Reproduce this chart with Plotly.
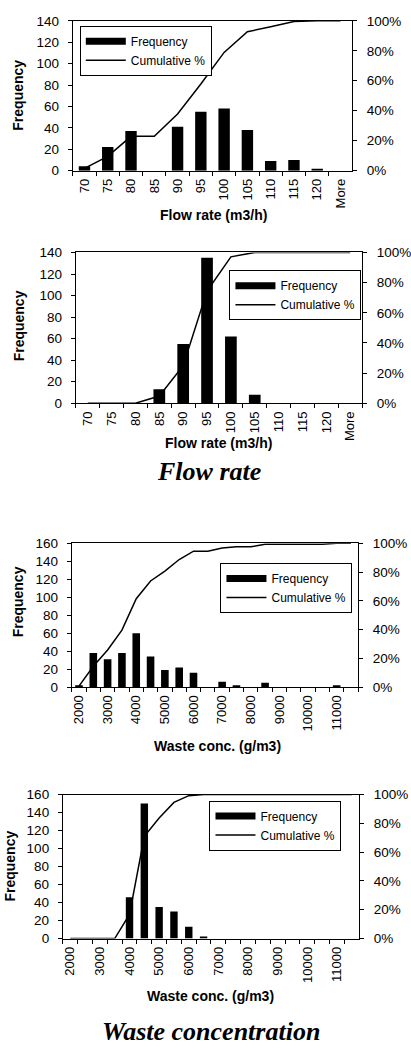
import plotly.graph_objects as go

# ---------------- data ----------------
flow_cats = ["70", "75", "80", "85", "90", "95", "100", "105", "110", "115", "120", "More"]
flow1_freq = [4, 22, 37, 0, 41, 55, 58, 38, 9, 10, 1, 0]
flow1_cum = [0.015, 0.095, 0.229, 0.229, 0.378, 0.578, 0.789, 0.927, 0.96, 0.996, 1.0, 1.0]
flow2_freq = [0, 0, 0, 13, 55, 135, 62, 8, 0, 0, 0, 0]
flow2_cum = [0.0, 0.0, 0.0, 0.048, 0.249, 0.744, 0.971, 1.0, 1.0, 1.0, 1.0, 1.0]

waste_cats = ["2000", "2500", "3000", "3500", "4000", "4500", "5000", "5500", "6000", "6500",
              "7000", "7500", "8000", "8500", "9000", "9500", "10000", "10500", "11000", "More"]
waste1_freq = [2, 38, 31, 38, 60, 34, 19, 22, 16, 0, 6, 2, 0, 5, 0, 0, 0, 0, 2, 0]
waste1_cum = [0.007, 0.145, 0.258, 0.396, 0.615, 0.738, 0.807, 0.887, 0.945, 0.945,
              0.967, 0.975, 0.975, 0.993, 0.993, 0.993, 0.993, 0.993, 1.0, 1.0]
waste2_freq = [0, 0, 0, 0, 46, 150, 35, 30, 13, 2, 0, 0, 0, 0, 0, 0, 0, 0, 0, 0]
waste2_cum = [0.0, 0.0, 0.0, 0.0, 0.167, 0.71, 0.837, 0.946, 0.993, 1.0,
              1.0, 1.0, 1.0, 1.0, 1.0, 1.0, 1.0, 1.0, 1.0, 1.0]

freq_ticks_140 = [0, 20, 40, 60, 80, 100, 120, 140]
freq_ticks_160 = [0, 20, 40, 60, 80, 100, 120, 140, 160]
pct_ticks = [0, 0.2, 0.4, 0.6, 0.8, 1.0]

x_title_flow = "Flow rate (m3/h)"
x_title_waste = "Waste conc. (g/m3)"
y_title = "Frequency"
section_titles = ["Flow rate", "Waste concentration"]

# ---------------- layout helpers ----------------
W, H = 411, 1053
SANS = "Liberation Sans, Arial, sans-serif"
SERIF = "Liberation Serif, Times New Roman, serif"


def px_x(v):
    return v / W


def px_y(v):
    return 1 - v / H


charts = [
    dict(cats=flow_cats, freq=flow1_freq, cum=flow1_cum, ymax=140, yticks=freq_ticks_140,
         box=(72, 352, 14, 166), legend=(79, 19), bar_w=0.49, every=1,
         xtitle=x_title_flow, xt=(213, 211), yt=(17, 89)),
    dict(cats=flow_cats, freq=flow2_freq, cum=flow2_cum, ymax=140, yticks=freq_ticks_140,
         box=(75, 362, 249, 402), legend=(229, 267), bar_w=0.49, every=1,
         xtitle=x_title_flow, xt=(218, 442), yt=(18, 323)),
    dict(cats=waste_cats, freq=waste1_freq, cum=waste1_cum, ymax=160, yticks=freq_ticks_160,
         box=(71, 358, 544, 690), legend=(220, 564), bar_w=0.53, every=2,
         xtitle=x_title_waste, xt=(217, 750), yt=(17, 603)),
    dict(cats=waste_cats, freq=waste2_freq, cum=waste2_cum, ymax=160, yticks=freq_ticks_160,
         box=(62, 359, 799, 945), legend=(209, 805), bar_w=0.5, every=2,
         xtitle=x_title_waste, xt=(210, 1003), yt=(9, 871)),
]

fig = go.Figure()
layout = dict(
    width=W, height=H,
    margin=dict(l=0, r=0, t=0, b=0),
    paper_bgcolor="white", plot_bgcolor="white",
    font=dict(family=SANS, color="black", size=13),
    barmode="overlay",
    annotations=[],
)

tickfont_y = dict(family=SANS, size=13.5, color="black")
tickfont_x = dict(family=SANS, size=13, color="black")
NC = len(charts)

for k, c in enumerate(charts, start=1):
    xa = "x" if k == 1 else f"x{k}"
    yl_n, yr_n = 2 * k - 1, 2 * k
    yl = "y" if yl_n == 1 else f"y{yl_n}"
    yr = f"y{yr_n}"
    legend_id = "legend" if k == 1 else f"legend{k}"
    l, r, t, b = c["box"]
    xdom = [px_x(l), px_x(r)]
    ydom = [px_y(b), px_y(t)]
    n = len(c["cats"])

    fig.add_trace(go.Bar(x=c["cats"], y=c["freq"], xaxis=xa, yaxis=yl, width=c["bar_w"],
                         marker=dict(color="black", line=dict(width=0)),
                         name="Frequency", showlegend=False))
    # legend proxy for the wide bar symbol
    fig.add_trace(go.Scatter(x=[None], y=[None], xaxis=xa, yaxis=yl, mode="lines",
                             line=dict(color="black", width=7), name="Frequency",
                             legend=legend_id, showlegend=True))
    fig.add_trace(go.Scatter(x=c["cats"], y=c["cum"], xaxis=xa, yaxis=yr, mode="lines",
                             line=dict(color="black", width=1.5), name="Cumulative %",
                             legend=legend_id, showlegend=True))

    ticktext = [cat if i % c["every"] == 0 else "" for i, cat in enumerate(c["cats"])]
    layout["xaxis" if k == 1 else f"xaxis{k}"] = dict(
        domain=xdom, anchor=yl, type="category", range=[-0.5, n - 0.5],
        tickmode="array", tickvals=c["cats"], ticktext=ticktext,
        tickson="boundaries", ticks="outside", ticklen=4, tickcolor="black",
        tickangle=-90, tickfont=tickfont_x, showline=True, linecolor="black",
        linewidth=1, mirror=True, showgrid=False, zeroline=False,
        ticklabelstandoff=2,
    )
    layout["yaxis" if yl_n == 1 else f"yaxis{yl_n}"] = dict(
        domain=ydom, anchor=xa, range=[0, c["ymax"]], tickmode="array",
        tickvals=c["yticks"], ticks="outside", ticklen=4, tickcolor="black",
        tickfont=tickfont_y, showline=True, linecolor="black", linewidth=1,
        showgrid=False, zeroline=False, ticklabelstandoff=6,
    )
    layout[f"yaxis{yr_n}"] = dict(
        overlaying=yl, side="right", anchor=xa, range=[0, 1], tickmode="array",
        tickvals=pct_ticks, tickformat=".0%", ticks="outside", ticklen=4,
        tickcolor="black", tickfont=tickfont_y, showline=True, linecolor="black",
        linewidth=1, showgrid=False, zeroline=False, ticklabelstandoff=7,
    )

    # inner halves of the crossing tick marks (no labels, no lines)
    xo = f"xaxis{NC + k}"
    layout[xo] = dict(
        overlaying=xa, anchor=yl, range=[-0.5, n - 0.5], tickmode="array",
        tickvals=[i - 0.5 for i in range(n + 1)], ticks="inside", ticklen=3,
        tickcolor="black", showticklabels=False, showline=False, showgrid=False,
        zeroline=False,
    )
    layout[f"yaxis{2 * NC + 2 * k - 1}"] = dict(
        overlaying=yl, anchor=xa, side="left", range=[0, c["ymax"]], tickmode="array",
        tickvals=c["yticks"], ticks="inside", ticklen=3, tickcolor="black",
        showticklabels=False, showline=False, showgrid=False, zeroline=False,
    )
    layout[f"yaxis{2 * NC + 2 * k}"] = dict(
        overlaying=yl, anchor=xa, side="right", range=[0, 1], tickmode="array",
        tickvals=pct_ticks, ticks="inside", ticklen=3, tickcolor="black",
        showticklabels=False, showline=False, showgrid=False, zeroline=False,
    )

    lx, ly = c["legend"]
    layout[legend_id] = dict(
        x=px_x(lx), y=px_y(ly), xanchor="left", yanchor="top",
        bgcolor="white", bordercolor="black", borderwidth=1,
        font=dict(family=SANS, size=12, color="black"),
        itemwidth=40, tracegroupgap=0,
    )

    ax, ay = c["xt"]
    layout["annotations"].append(dict(
        x=px_x(ax), y=px_y(ay), xref="paper", yref="paper", showarrow=False,
        text=f"<b>{c['xtitle']}</b>", font=dict(family=SANS, size=14, color="black"),
        xanchor="center", yanchor="middle"))
    tx, ty = c["yt"]
    layout["annotations"].append(dict(
        x=px_x(tx), y=px_y(ty), xref="paper", yref="paper", showarrow=False,
        text=f"<b>{y_title}</b>", textangle=-90,
        font=dict(family=SANS, size=14, color="black"),
        xanchor="center", yanchor="middle"))

for txt, (cx, cy) in zip(section_titles, [(209, 471), (211, 1039)]):
    layout["annotations"].append(dict(
        x=px_x(cx), y=px_y(cy), xref="paper", yref="paper", showarrow=False,
        text=f"<b><i>{txt}</i></b>", font=dict(family=SERIF, size=26, color="black"),
        xanchor="center", yanchor="middle"))

fig.update_layout(**layout)
fig.write_html("out.html")
